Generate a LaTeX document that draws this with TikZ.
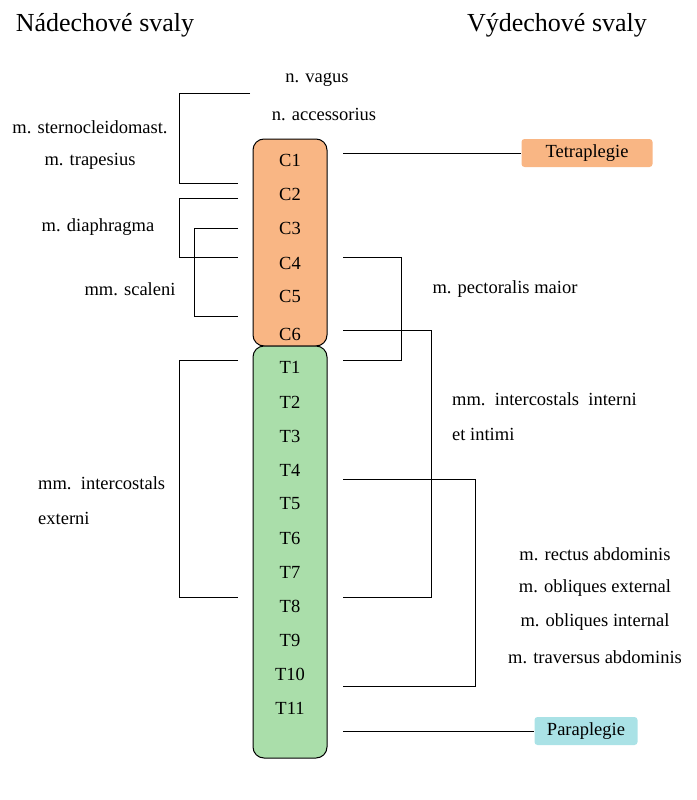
\documentclass[tikz,border=0pt]{standalone}
\usepackage{fontspec}
\setmainfont{Liberation Serif}
\begin{document}
\begin{tikzpicture}[x=1pt,y=-1pt,
  lbl/.style={inner sep=0pt,font=\fontsize{18.5}{22}\selectfont},
  ttl/.style={inner sep=0pt,font=\fontsize{26}{30}\selectfont},
  seg/.style={inner sep=0pt,font=\fontsize{18.5}{22}\selectfont},
  ln/.style={line width=1pt,black}]
\useasboundingbox (0,0) rectangle (696,800);
\node[ttl] (t1) at (105,25) {Nádechové svaly};
\node[ttl] (t2) at (557,25) {Výdechové svaly};
\node[lbl] (vag) at (317,80) {n. vagus};
\node[lbl] (acc) at (324,115) {n. accessorius};
\fill[white] (250,120.5) rectangle (400,135);
\node[lbl] (scm) at (90,127) {m. sternocleidomast.};
\node[lbl] (trap) at (90,161) {m. trapesius};
\node[lbl] (dia) at (98,227) {m. diaphragma};
\node[lbl] (sca) at (130,289) {mm. scaleni};
\node[lbl,anchor=west] (ie1) at (38,483) {mm.\ \ intercostals};
\node[lbl,anchor=west] (ie2) at (38,518) {externi};
\node[lbl] (pec) at (505,289) {m. pectoralis maior};
\node[lbl,anchor=west] (ii1) at (452,399) {mm.\ \ intercostals\ \ interni};
\node[lbl,anchor=west] (ii2) at (452,434) {et intimi};
\node[lbl] (ab1) at (595,554) {m. rectus abdominis};
\node[lbl] (ab2) at (595,588) {m. obliques external};
\node[lbl] (ab3) at (595,622) {m. obliques internal};
\node[lbl] (ab4) at (595,657) {m. traversus abdominis};
\draw[line width=1pt, fill={rgb,255:red,249;green,182;blue,132}, rounded corners=11pt] (253,139) rectangle (327,346);
\foreach \n/\y in {1/160,2/194,3/228,4/263,5/296,6/334}
  \node[seg] (C\n) at (290,\y) {C\n};
\draw[line width=1pt, fill={rgb,255:red,170;green,222;blue,170}, rounded corners=11pt] (253,346) rectangle (327,758);
\foreach \n/\y in {1/367,2/402,3/436,4/470,5/504,6/538,7/572,8/606,9/640,10/674,11/708}
  \node[seg] (T\n) at (290,\y) {T\n};
\node[draw=none,fill={rgb,255:red,249;green,182;blue,132},rounded corners=3pt,minimum width=131pt,minimum height=28pt,lbl] (tet) at (587,153) {Tetraplegie};
\node[draw=none,fill={rgb,255:red,170;green,226;blue,230},rounded corners=3pt,minimum width=103pt,minimum height=28pt,lbl] (par) at (586,731) {Paraplegie};
\draw[ln] (250,93) -- (179,93) -- (179,183) -- (238,183);
\draw[ln] (238,198) -- (179,198) -- (179,257) -- (238,257);
\draw[ln] (238,228) -- (194,228) -- (194,316) -- (238,316);
\draw[ln] (238,360) -- (179,360) -- (179,597) -- (238,597);
\draw[ln] (343,153) -- (tet.west);
\draw[ln] (343,257) -- (401,257) -- (401,360) -- (343,360);
\draw[ln] (343,330) -- (431,330) -- (431,597) -- (343,597);
\draw[ln] (343,479) -- (475,479) -- (475,686) -- (343,686);
\draw[ln] (343,731) -- (par.west);
\end{tikzpicture}
\end{document}
